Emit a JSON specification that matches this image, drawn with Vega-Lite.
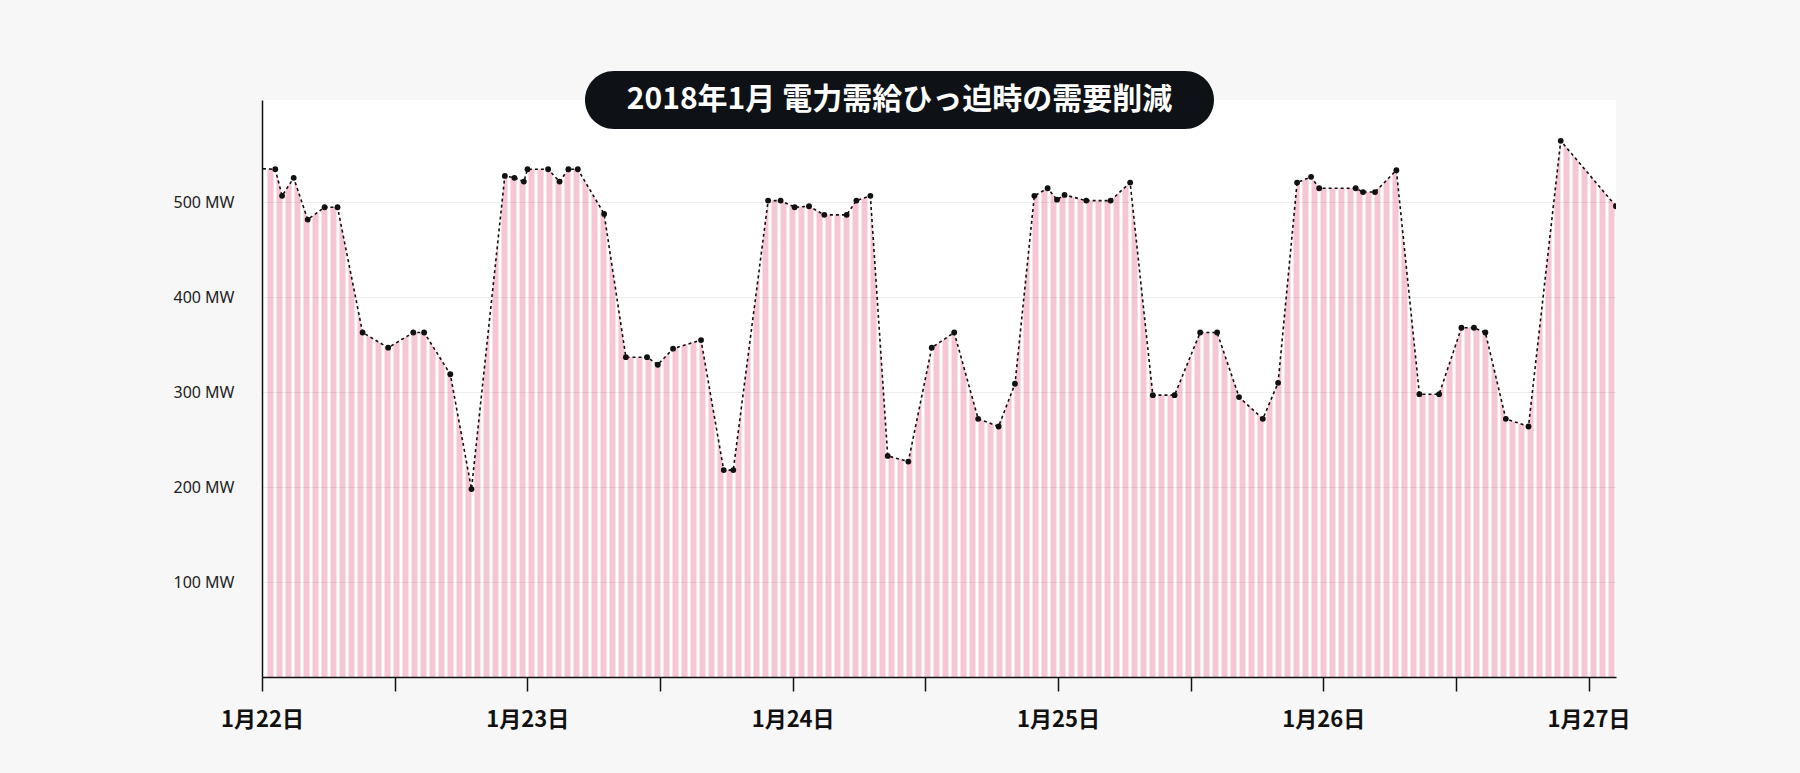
{
  "$schema": "https://vega.github.io/schema/vega-lite/v6.json",
  "width": 1354,
  "height": 577,
  "autosize": "none",
  "padding": {"left": 262, "top": 100, "right": 184, "bottom": 96},
  "background": "#f7f7f7",
  "data": {
    "values": [
      {"time": "2018-01-21T23:00:00", "mw": 536},
      {"time": "2018-01-22T01:12:00", "mw": 535},
      {"time": "2018-01-22T01:49:00", "mw": 507},
      {"time": "2018-01-22T02:52:00", "mw": 526},
      {"time": "2018-01-22T04:08:00", "mw": 482},
      {"time": "2018-01-22T05:40:00", "mw": 495},
      {"time": "2018-01-22T06:50:00", "mw": 495},
      {"time": "2018-01-22T09:06:00", "mw": 363},
      {"time": "2018-01-22T11:25:00", "mw": 347},
      {"time": "2018-01-22T13:41:00", "mw": 363},
      {"time": "2018-01-22T14:40:00", "mw": 363},
      {"time": "2018-01-22T17:02:00", "mw": 319},
      {"time": "2018-01-22T18:57:00", "mw": 198},
      {"time": "2018-01-22T21:58:00", "mw": 528},
      {"time": "2018-01-22T22:50:00", "mw": 526},
      {"time": "2018-01-22T23:41:00", "mw": 522},
      {"time": "2018-01-23T00:01:00", "mw": 535},
      {"time": "2018-01-23T01:53:00", "mw": 535},
      {"time": "2018-01-23T02:55:00", "mw": 522},
      {"time": "2018-01-23T03:43:00", "mw": 535},
      {"time": "2018-01-23T04:34:00", "mw": 535},
      {"time": "2018-01-23T06:57:00", "mw": 488},
      {"time": "2018-01-23T08:55:00", "mw": 337},
      {"time": "2018-01-23T10:50:00", "mw": 337},
      {"time": "2018-01-23T11:48:00", "mw": 329},
      {"time": "2018-01-23T13:11:00", "mw": 346},
      {"time": "2018-01-23T15:43:00", "mw": 355},
      {"time": "2018-01-23T17:46:00", "mw": 218},
      {"time": "2018-01-23T18:38:00", "mw": 218},
      {"time": "2018-01-23T21:47:00", "mw": 502},
      {"time": "2018-01-23T22:55:00", "mw": 502},
      {"time": "2018-01-24T00:11:00", "mw": 495},
      {"time": "2018-01-24T01:29:00", "mw": 496},
      {"time": "2018-01-24T02:52:00", "mw": 487},
      {"time": "2018-01-24T04:53:00", "mw": 487},
      {"time": "2018-01-24T05:46:00", "mw": 502},
      {"time": "2018-01-24T07:02:00", "mw": 507},
      {"time": "2018-01-24T08:36:00", "mw": 233},
      {"time": "2018-01-24T10:28:00", "mw": 227},
      {"time": "2018-01-24T12:35:00", "mw": 347},
      {"time": "2018-01-24T14:37:00", "mw": 363},
      {"time": "2018-01-24T16:47:00", "mw": 272},
      {"time": "2018-01-24T18:38:00", "mw": 264},
      {"time": "2018-01-24T20:07:00", "mw": 309},
      {"time": "2018-01-24T21:52:00", "mw": 507},
      {"time": "2018-01-24T23:04:00", "mw": 515},
      {"time": "2018-01-24T23:55:00", "mw": 503},
      {"time": "2018-01-25T00:36:00", "mw": 508},
      {"time": "2018-01-25T02:34:00", "mw": 502},
      {"time": "2018-01-25T04:46:00", "mw": 502},
      {"time": "2018-01-25T06:32:00", "mw": 521},
      {"time": "2018-01-25T08:35:00", "mw": 297},
      {"time": "2018-01-25T10:33:00", "mw": 297},
      {"time": "2018-01-25T12:52:00", "mw": 363},
      {"time": "2018-01-25T14:24:00", "mw": 363},
      {"time": "2018-01-25T16:23:00", "mw": 295},
      {"time": "2018-01-25T18:32:00", "mw": 272},
      {"time": "2018-01-25T19:55:00", "mw": 310},
      {"time": "2018-01-25T21:38:00", "mw": 521},
      {"time": "2018-01-25T22:54:00", "mw": 527},
      {"time": "2018-01-25T23:38:00", "mw": 515},
      {"time": "2018-01-26T02:56:00", "mw": 515},
      {"time": "2018-01-26T03:36:00", "mw": 511},
      {"time": "2018-01-26T04:41:00", "mw": 511},
      {"time": "2018-01-26T06:37:00", "mw": 534},
      {"time": "2018-01-26T08:42:00", "mw": 298},
      {"time": "2018-01-26T10:29:00", "mw": 298},
      {"time": "2018-01-26T12:30:00", "mw": 368},
      {"time": "2018-01-26T13:38:00", "mw": 368},
      {"time": "2018-01-26T14:40:00", "mw": 363},
      {"time": "2018-01-26T16:31:00", "mw": 272},
      {"time": "2018-01-26T18:34:00", "mw": 264},
      {"time": "2018-01-26T21:29:00", "mw": 565},
      {"time": "2018-01-27T02:29:00", "mw": 496}
    ]
  },
  "resolve": {"scale": {"x": "independent"}},
  "layer": [
    {
      "data": {"values": [{"k": 0}]},
      "mark": {"type": "point", "opacity": 0},
      "encoding": {
        "x": {
          "field": "k",
          "type": "quantitative",
          "scale": {"domain": [-0.9, 149.6], "nice": false, "zero": false},
          "axis": {
            "orient": "top",
            "title": null,
            "labels": false,
            "ticks": false,
            "domain": false,
            "grid": true,
            "gridColor": "#f6c6d4",
            "gridWidth": 6,
            "gridOpacity": 1,
            "tickCount": 150
          }
        }
      }
    },
    {
      "mark": {"type": "area", "color": "#ffffff", "clip": true},
      "encoding": {
        "x": {
          "field": "time",
          "type": "temporal",
          "scale": {
            "domain": [
              {"year": 2018, "month": 1, "date": 22, "hours": 0, "minutes": 0},
              {"year": 2018, "month": 1, "date": 27, "hours": 2, "minutes": 29}
            ],
            "nice": false
          },
          "axis": {
            "orient": "bottom",
            "title": null,
            "grid": false,
            "values": [
              {"year": 2018, "month": 1, "date": 22, "hours": 0},
              {"year": 2018, "month": 1, "date": 22, "hours": 12},
              {"year": 2018, "month": 1, "date": 23, "hours": 0},
              {"year": 2018, "month": 1, "date": 23, "hours": 12},
              {"year": 2018, "month": 1, "date": 24, "hours": 0},
              {"year": 2018, "month": 1, "date": 24, "hours": 12},
              {"year": 2018, "month": 1, "date": 25, "hours": 0},
              {"year": 2018, "month": 1, "date": 25, "hours": 12},
              {"year": 2018, "month": 1, "date": 26, "hours": 0},
              {"year": 2018, "month": 1, "date": 26, "hours": 12},
              {"year": 2018, "month": 1, "date": 27, "hours": 0}
            ],
            "labelExpr": "timeFormat(datum.value, '%H') === '00' ? timeFormat(datum.value, '%-m月%-d日') : ''",
            "labelFlush": false,
            "labelOverlap": false,
            "labelFont": "Noto Sans CJK JP",
            "labelFontWeight": "bold",
            "labelFontSize": 22,
            "labelColor": "#111111",
            "labelPadding": 18,
            "tickSize": 14,
            "tickColor": "#111111",
            "tickWidth": 1.5,
            "domainColor": "#111111",
            "domainWidth": 1.5
          }
        },
        "y": {
          "field": "mw",
          "type": "quantitative",
          "scale": {"domain": [0, 608], "nice": false},
          "axis": {
            "title": null,
            "values": [100, 200, 300, 400, 500],
            "labelExpr": "datum.value + ' MW'",
            "ticks": false,
            "labelFontSize": 16,
            "labelColor": "#222222",
            "labelPadding": 28,
            "domainColor": "#111111",
            "domainWidth": 1.5,
            "gridColor": "#000000",
            "gridOpacity": 0.07,
            "zindex": 1
          }
        },
        "y2": {"datum": 608}
      }
    },
    {
      "mark": {
        "type": "line",
        "color": "#111111",
        "strokeWidth": 1.6,
        "strokeDash": [3, 3],
        "clip": true
      },
      "encoding": {
        "x": {
          "field": "time",
          "type": "temporal",
          "scale": {
            "domain": [
              {"year": 2018, "month": 1, "date": 22, "hours": 0, "minutes": 0},
              {"year": 2018, "month": 1, "date": 27, "hours": 2, "minutes": 29}
            ],
            "nice": false
          },
          "axis": null
        },
        "y": {"field": "mw", "type": "quantitative", "scale": {"domain": [0, 608], "nice": false}}
      }
    },
    {
      "mark": {
        "type": "point",
        "filled": true,
        "opacity": 1,
        "size": 34,
        "color": "#111111",
        "clip": true
      },
      "encoding": {
        "x": {
          "field": "time",
          "type": "temporal",
          "scale": {
            "domain": [
              {"year": 2018, "month": 1, "date": 22, "hours": 0, "minutes": 0},
              {"year": 2018, "month": 1, "date": 27, "hours": 2, "minutes": 29}
            ],
            "nice": false
          },
          "axis": null
        },
        "y": {"field": "mw", "type": "quantitative", "scale": {"domain": [0, 608], "nice": false}}
      }
    },
    {
      "data": {"values": [{"label": "2018年1月 電力需給ひっ迫時の需要削減"}]},
      "mark": {"type": "rect", "color": "#0e1116", "cornerRadius": 29},
      "encoding": {
        "x": {
          "datum": {"year": 2018, "month": 1, "date": 23, "hours": 5, "minutes": 13},
          "type": "temporal",
          "scale": {
            "domain": [
              {"year": 2018, "month": 1, "date": 22, "hours": 0, "minutes": 0},
              {"year": 2018, "month": 1, "date": 27, "hours": 2, "minutes": 29}
            ],
            "nice": false
          },
          "axis": null
        },
        "x2": {"datum": {"year": 2018, "month": 1, "date": 25, "hours": 14, "minutes": 7}},
        "y": {"datum": 638.6, "type": "quantitative", "scale": {"domain": [0, 608], "nice": false}},
        "y2": {"datum": 577.5}
      }
    },
    {
      "data": {"values": [{"label": "2018年1月 電力需給ひっ迫時の需要削減"}]},
      "mark": {
        "type": "text",
        "font": "Noto Sans CJK JP",
        "fontWeight": "bold",
        "fontSize": 30,
        "color": "#ffffff",
        "align": "center",
        "baseline": "middle"
      },
      "encoding": {
        "x": {
          "datum": {"year": 2018, "month": 1, "date": 24, "hours": 9, "minutes": 40},
          "type": "temporal",
          "scale": {
            "domain": [
              {"year": 2018, "month": 1, "date": 22, "hours": 0, "minutes": 0},
              {"year": 2018, "month": 1, "date": 27, "hours": 2, "minutes": 29}
            ],
            "nice": false
          },
          "axis": null
        },
        "y": {"datum": 608, "type": "quantitative", "scale": {"domain": [0, 608], "nice": false}},
        "text": {"field": "label", "type": "nominal"}
      }
    }
  ],
  "config": {
    "font": "Noto Sans",
    "view": {"stroke": null, "fill": "#ffffff"}
  }
}
